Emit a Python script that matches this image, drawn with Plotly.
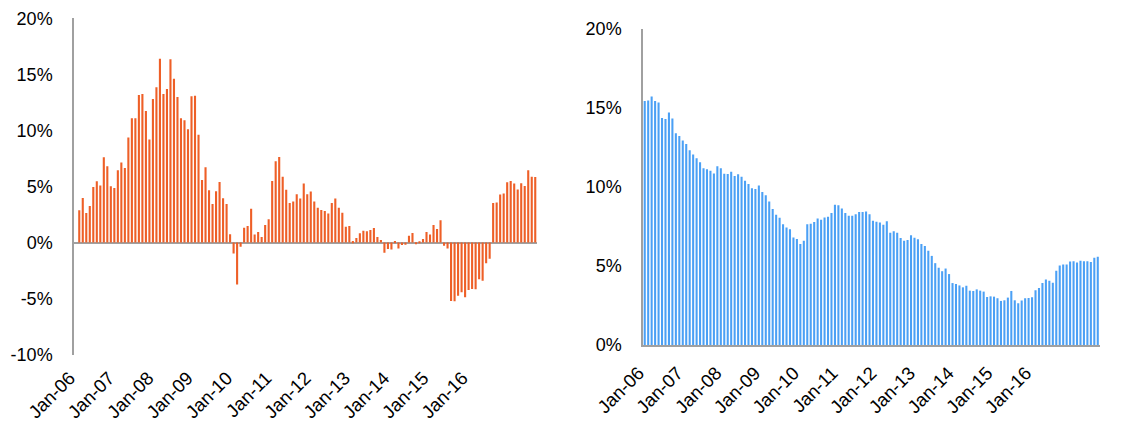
import plotly.graph_objects as go

# ---- data (percent) ----
tick_labels = ["Jan-06", "Jan-07", "Jan-08", "Jan-09", "Jan-10", "Jan-11",
               "Jan-12", "Jan-13", "Jan-14", "Jan-15", "Jan-16"]

left_values = [
    None,
    2.88, 3.98, 2.64, 3.26, 4.96, 5.46, 5.08, 7.60, 6.80, 5.02, 4.87, 6.44,
    7.13, 6.65, 9.36, 11.08, 11.08, 13.16, 13.25, 11.73, 9.20, 12.80, 13.84, 16.40,
    13.25, 13.70, 16.34, 14.60, 12.98, 11.08, 10.90, 10.10, 13.04, 13.10, 9.62, 5.58,
    6.71, 4.66, 3.44, 4.57, 5.40, 3.95, 3.44, 0.74, -0.98, -3.74, -0.37, 1.32,
    1.47, 3.01, 0.73, 0.94, 0.49, 1.56, 2.07, 5.48, 7.26, 7.62, 5.87, 4.71,
    3.52, 3.67, 4.32, 3.94, 5.27, 4.32, 4.56, 3.67, 3.10, 2.90, 2.81, 2.60,
    3.52, 3.94, 3.10, 2.66, 1.41, 1.47, 0.13, 0.40, 0.82, 1.05, 1.00, 1.11,
    1.29, 0.49, 0.22, -0.91, -0.58, -0.61, 0.13, -0.52, -0.22, -0.20, 0.60, 0.85,
    -0.16, 0.05, 0.31, 0.94, 0.73, 1.56, 1.20, 2.00, -0.28, -0.52, -5.21, -5.24,
    -4.74, -4.44, -4.88, -4.23, -4.14, -4.17, -3.28, -3.40, -1.85, -1.44, 3.52, 3.58,
    4.29, 4.38, 5.39, 5.48, 5.27, 4.74, 5.30, 5.04, 6.46, 5.87, 5.84,
]

right_values = [
    15.45, 15.47, 15.72, 15.45, 15.35, 14.36, 14.30, 14.72, 14.34, 13.40, 13.23, 12.94,
    12.72, 12.33, 12.06, 11.82, 11.57, 11.19, 11.13, 11.03, 10.86, 11.32, 11.19, 10.84,
    10.82, 10.96, 10.69, 10.80, 10.65, 10.40, 10.19, 9.92, 9.87, 10.10, 9.69, 9.48,
    9.08, 8.60, 8.24, 8.05, 7.65, 7.44, 7.32, 6.81, 6.71, 6.39, 6.60, 7.65,
    7.67, 7.78, 8.00, 7.92, 8.07, 8.11, 8.36, 8.87, 8.85, 8.64, 8.36, 8.18,
    8.18, 8.28, 8.41, 8.41, 8.45, 8.28, 7.86, 7.80, 7.76, 7.61, 7.84, 7.11,
    7.20, 7.11, 6.77, 6.60, 6.65, 6.94, 6.79, 6.69, 6.39, 6.27, 5.97, 5.64,
    5.18, 4.89, 4.67, 4.84, 4.49, 3.92, 3.86, 3.77, 3.65, 3.75, 3.44, 3.42,
    3.52, 3.44, 3.38, 3.04, 3.08, 3.06, 2.96, 2.79, 2.83, 3.00, 3.42, 2.83,
    2.64, 2.81, 2.96, 2.98, 3.02, 3.46, 3.61, 3.92, 4.15, 4.07, 3.94, 4.70,
    5.03, 5.09, 5.09, 5.28, 5.30, 5.22, 5.33, 5.30, 5.30, 5.26, 5.52, 5.58,
]

left_yticks = [-10, -5, 0, 5, 10, 15, 20]
right_yticks = [0, 5, 10, 15, 20]

# ---- styling ----
PAGE_W, PAGE_H = 1126, 423
OFF = 8  # default body margin of the html page
W, H = PAGE_W - OFF, PAGE_H - OFF
ORANGE = "#EE5F27"
BLUE = "#4BA0F5"
AXIS = "#A0A0A0"
FONT = "Liberation Sans, Arial, sans-serif"
LABEL_STEP = 11.2    # slots between x labels
LABEL_SHIFT_PX = -6  # shift of x labels along the axis

n_left = len(left_values)
n_right = len(right_values)

fig = go.Figure()
fig.add_trace(go.Bar(x=list(range(n_left)), y=left_values, marker_color=ORANGE,
                     marker_line_width=0, xaxis="x", yaxis="y"))
fig.add_trace(go.Bar(x=list(range(n_right)), y=right_values, marker_color=BLUE,
                     marker_line_width=0, xaxis="x2", yaxis="y2"))

def px_x(a, b):
    return [(a - OFF) / W, (b - OFF) / W]

def px_y(top, bottom):
    return [1 - (bottom - OFF) / H, 1 - (top - OFF) / H]

xtick_font = dict(family=FONT, size=18.5, color="#000")
ytick_font = dict(family=FONT, size=18, color="#000")
xtickvals = [i * LABEL_STEP for i in range(len(tick_labels))]

fig.update_layout(
    width=W, height=H,
    margin=dict(l=0, r=0, t=0, b=0),
    paper_bgcolor="white", plot_bgcolor="white",
    showlegend=False, bargap=0.4,
    xaxis=dict(domain=px_x(74, 537), range=[-0.5, n_left - 0.5], anchor="y",
               showgrid=False, zeroline=False, showline=False,
               tickmode="array", tickvals=xtickvals,
               ticktext=tick_labels, tickangle=-45, tickfont=xtick_font,
               ticks="", automargin=False, ticklabelstandoff=8,
               ticklabelshift=LABEL_SHIFT_PX),
    yaxis=dict(domain=px_y(18.3, 354.7), range=[-10, 20], anchor="x",
               showgrid=False, zeroline=True, zerolinecolor=AXIS, zerolinewidth=2,
               showline=True, linecolor=AXIS, linewidth=1.5,
               tickmode="array", tickvals=left_yticks,
               ticktext=[f"{v}%" for v in left_yticks], tickfont=ytick_font,
               ticks="", automargin=False, ticklabelstandoff=16),
    xaxis2=dict(domain=px_x(643, 1099.5), range=[-0.5, n_right - 0.5], anchor="y2",
                showgrid=False, zeroline=False, showline=True, linecolor=AXIS,
                linewidth=2, tickmode="array", tickvals=xtickvals,
                ticktext=tick_labels, tickangle=-45, tickfont=xtick_font,
                ticks="", automargin=False, ticklabelstandoff=8,
                ticklabelshift=LABEL_SHIFT_PX),
    yaxis2=dict(domain=px_y(29, 345), range=[0, 20], anchor="x2",
                showgrid=False, zeroline=False,
                showline=True, linecolor=AXIS, linewidth=1.5,
                tickmode="array", tickvals=right_yticks,
                ticktext=[f"{v}%" for v in right_yticks], tickfont=ytick_font,
                ticks="", automargin=False, ticklabelstandoff=16),
)

fig.write_html("out.html")
